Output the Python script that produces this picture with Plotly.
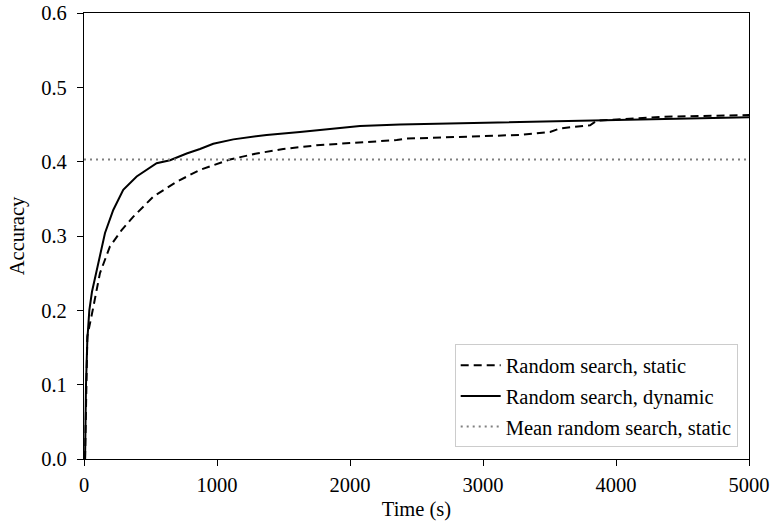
import plotly.graph_objects as go

# Best-so-far accuracy over wall-clock time
time_static = [8, 15, 25, 65, 120, 195, 283, 371, 521, 697, 872, 1098, 1298, 1498,
               1749, 2000, 2200, 2351, 2426, 2955, 3278, 3504, 3579, 3805, 3855,
               4356, 5000]
acc_static = [0.0, 0.10, 0.165, 0.20, 0.250, 0.286, 0.308, 0.326, 0.353, 0.373,
              0.389, 0.403, 0.411, 0.417, 0.422, 0.425, 0.427, 0.429, 0.431,
              0.4335, 0.436, 0.440, 0.4448, 0.449, 0.455, 0.4605, 0.4627]

time_dynamic = [8, 15, 25, 40, 60, 95, 158, 220, 295, 396, 546, 647, 772, 872,
                972, 1123, 1373, 1624, 1873, 2075, 2376, 2627, 2955, 3654, 4356,
                5000]
acc_dynamic = [0.0, 0.10, 0.16, 0.20, 0.225, 0.252, 0.304, 0.335, 0.362, 0.380,
               0.398, 0.402, 0.411, 0.417, 0.424, 0.430, 0.436, 0.440, 0.444,
               0.448, 0.450, 0.451, 0.452, 0.455, 0.458, 0.4596]

mean_static = 0.403
x_range = [0, 5000]
x_ticks = [0, 1000, 2000, 3000, 4000, 5000]
y_ticks = [0.0, 0.1, 0.2, 0.3, 0.4, 0.5, 0.6]

FONT = "Liberation Serif, Times New Roman, serif"
FS = 20.5

fig = go.Figure()
fig.add_trace(go.Scatter(
    x=time_static, y=acc_static, mode="lines",
    name="Random search, static", legendgroup="a",
    line=dict(color="black", width=2, dash="8px,5px"),
))
fig.add_trace(go.Scatter(
    x=time_dynamic, y=acc_dynamic, mode="lines",
    name="Random search, dynamic", legendgroup="b",
    line=dict(color="black", width=2),
))
fig.add_trace(go.Scatter(
    x=x_range, y=[mean_static, mean_static], mode="lines",
    name="Mean random search, static", legendgroup="c",
    line=dict(color="#808080", width=2, dash="2px,4px"),
))

axis_common = dict(
    showline=True, linecolor="black", linewidth=1.3, mirror=True,
    ticks="outside", ticklen=6, tickwidth=1.3, tickcolor="black",
    showgrid=False, zeroline=False, automargin=False,
    tickfont=dict(family=FONT, size=FS, color="black"),
    title_font=dict(family=FONT, size=FS, color="black"),
)

fig.update_xaxes(range=x_range, tickvals=x_ticks, tickformat="d",
                 title_text="Time (s)", title_standoff=6,
                 ticklabelstandoff=1, **axis_common)
fig.update_yaxes(range=[0, 0.6], tickvals=y_ticks, tickformat=".1f",
                 title_text="Accuracy", title_standoff=10,
                 ticklabelstandoff=6, **axis_common)

fig.update_layout(
    width=771, height=523,
    margin=dict(l=84, r=22, t=13, b=64),
    plot_bgcolor="white", paper_bgcolor="white",
    font=dict(family=FONT, size=FS, color="black"),
    legend=dict(
        x=0.983, y=0.026, xanchor="right", yanchor="bottom",
        bgcolor="white", bordercolor="#cccccc", borderwidth=1,
        font=dict(family=FONT, size=FS, color="black"),
        itemwidth=40, traceorder="grouped", tracegroupgap=1,
    ),
    showlegend=True,
)

fig.write_html("out.html")
